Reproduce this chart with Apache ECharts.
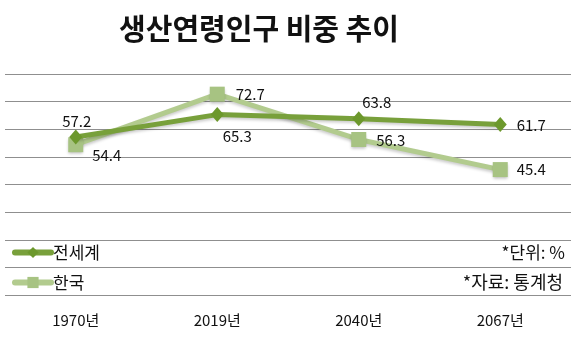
<!DOCTYPE html>
<html>
<head>
<meta charset="utf-8">
<script src="https://cdn.jsdelivr.net/npm/echarts@6/dist/echarts.min.js"></script>
<style>
html,body{margin:0;padding:0;background:#fff;}
#chart{width:577px;height:341px;}
</style>
</head>
<body>
<div id="chart"></div>
<script>
const titleText = '생산연령인구 비중 추이';
const categories = ['1970년', '2019년', '2040년', '2067년'];
const worldName = '전세계';
const koreaName = '한국';
const worldValues = [57.2, 65.3, 63.8, 61.7];
const koreaValues = [54.4, 72.7, 56.3, 45.4];
const unitNote = '*단위: %';
const sourceNote = '*자료: 통계청';

const FONT = '"Noto Sans CJK KR", "Noto Sans", sans-serif';
const worldLabelOffsets = [[1, -16], [20, 22], [18, -16], [31, 1]];
const koreaLabelOffsets = [[31, 11], [33, 0], [32, 1], [31, 0]];

function buildData(values, offsets) {
  return values.map((v, i) => ({
    value: v,
    label: { offset: offsets[i] }
  }));
}

const labelStyle = {
  show: true,
  position: 'inside',
  align: 'center',
  verticalAlign: 'middle',
  color: '#111',
  fontSize: 15,
  fontFamily: FONT,
  formatter: p => p.value.toFixed(1)
};

const chart = echarts.init(document.getElementById('chart'), null, { renderer: 'canvas' });
chart.setOption({
  animation: false,
  backgroundColor: '#fff',
  grid: { left: 5, right: 6, top: 74, bottom: 46, containLabel: false },
  xAxis: {
    type: 'category',
    data: categories,
    boundaryGap: true,
    axisLine: { show: false },
    axisTick: { show: false },
    axisLabel: { color: '#111', fontSize: 15, fontFamily: FONT, margin: 18 }
  },
  yAxis: {
    type: 'value',
    min: 0, max: 80, interval: 10,
    axisLabel: { show: false },
    axisLine: { show: false },
    axisTick: { show: false },
    splitLine: { lineStyle: { color: '#8f8f8f', width: 1 } }
  },
  legend: {
    orient: 'vertical',
    left: 7, top: 239,
    itemWidth: 36, itemHeight: 14,
    itemGap: 13,
    textStyle: { color: '#111', fontSize: 17, fontFamily: FONT, padding: [0, 0, 0, -3] },
    data: [
      { name: worldName, lineStyle: { width: 6, cap: 'round' } },
      { name: koreaName, lineStyle: { width: 6, cap: 'round' } }
    ]
  },
  graphic: [
    { type: 'text', x: 259, y: 29,
      style: { text: titleText, fill: '#111', font: 'bold 29px ' + FONT, textAlign: 'center', textVerticalAlign: 'middle' } },
    { type: 'text', x: 565, y: 253,
      style: { text: unitNote, fill: '#111', font: '17px ' + FONT, textAlign: 'right', textVerticalAlign: 'middle' } },
    { type: 'text', x: 563, y: 282,
      style: { text: sourceNote, fill: '#111', font: '18px ' + FONT, textAlign: 'right', textVerticalAlign: 'middle' } }
  ],
  series: [
    {
      name: koreaName,
      type: 'line',
      data: buildData(koreaValues, koreaLabelOffsets),
      symbol: 'rect',
      symbolSize: 15,
      z: 2,
      lineStyle: { color: '#b2cb8e', width: 5, shadowColor: 'rgba(0,0,0,0.2)', shadowBlur: 3, shadowOffsetY: 2 },
      itemStyle: { color: '#a7c382', borderWidth: 0, shadowColor: 'rgba(0,0,0,0.25)', shadowBlur: 3, shadowOffsetY: 2 },
      label: labelStyle
    },
    {
      name: worldName,
      type: 'line',
      data: buildData(worldValues, worldLabelOffsets),
      symbol: 'diamond',
      symbolSize: [13, 15],
      z: 3,
      lineStyle: { color: '#78a03b', width: 5, shadowColor: 'rgba(0,0,0,0.2)', shadowBlur: 3, shadowOffsetY: 2 },
      itemStyle: { color: '#6c982c', borderWidth: 0 },
      label: labelStyle
    }
  ]
});
</script>
</body>
</html>
